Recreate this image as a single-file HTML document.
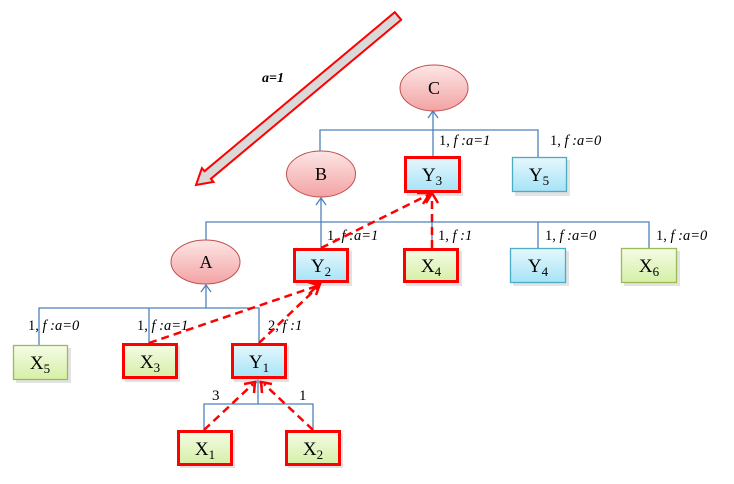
<!DOCTYPE html>
<html><head><meta charset="utf-8"><style>
html,body{margin:0;padding:0;background:#fff;}
svg{display:block;}
.n{font-family:"Liberation Serif",serif;font-size:19px;fill:#000;}
.e{font-size:18px;}
.s{font-size:13px;}
.l{font-family:"Liberation Serif",serif;font-size:14.5px;fill:#000;}
.i{font-style:italic;}
</style></head><body>
<svg width="734" height="484" viewBox="0 0 734 484" xmlns="http://www.w3.org/2000/svg">
<defs>
<linearGradient id="gg" x1="0" y1="0" x2="0" y2="1"><stop offset="0" stop-color="#f5fce6"/><stop offset="1" stop-color="#d5efa6"/></linearGradient>
<linearGradient id="bg" x1="0" y1="0" x2="0" y2="1"><stop offset="0" stop-color="#e6f8fd"/><stop offset="1" stop-color="#a6e3f6"/></linearGradient>
<linearGradient id="pg" x1="0" y1="0" x2="0" y2="1"><stop offset="0" stop-color="#fde6e6"/><stop offset="1" stop-color="#f3a3a3"/></linearGradient>
</defs>

<!-- big arrow -->
<polygon points="394.8,12.2 401.2,19.8 210.9,178.8 213.5,181.9 196,185 201.9,168.1 204.5,171.2" fill="#d9d9d9" stroke="#ff0000" stroke-width="2" stroke-linejoin="miter"/>
<text x="262" y="82" class="l i" font-weight="bold" style="font-size:14px">a=1</text>

<!-- blue connectors -->
<g stroke="#4f81bd" stroke-width="1.3" fill="none">
<polyline points="320,151 320,130 538,130 538,157"/>
<line x1="433" y1="157" x2="433" y2="111"/>
<polyline points="428,118 433,111 438,118"/>
<polyline points="206,240 206,222 649,222 649,248"/>
<line x1="321" y1="248" x2="321" y2="198"/>
<polyline points="316,205 321,198 326,205"/>
<line x1="538" y1="222" x2="538" y2="248"/>
<line x1="432" y1="222" x2="432" y2="248"/>
<polyline points="39,345 39,308 259,308 259,343"/>
<line x1="149" y1="308" x2="149" y2="343"/>
<line x1="206" y1="308" x2="206" y2="285"/>
<polyline points="201,292 206,285 211,292"/>
<polyline points="204,430 204,404 313,404 313,430"/>
<line x1="258" y1="404" x2="258" y2="380"/>
<polyline points="253,387 258,380 263,387"/>
</g>

<!-- ellipses -->
<g stroke="#c0504d" stroke-width="1" fill="url(#pg)">
<ellipse cx="434" cy="88" rx="34" ry="23"/>
<ellipse cx="321" cy="174" rx="34.5" ry="23"/>
<ellipse cx="205.5" cy="262" rx="34.5" ry="22"/>
</g>
<text x="434" y="94" class="n e" text-anchor="middle">C</text>
<text x="321" y="180" class="n e" text-anchor="middle">B</text>
<text x="206" y="268" class="n e" text-anchor="middle">A</text>

<!-- shadows -->
<g fill="#c8c8c8" opacity="0.5">
<rect x="407" y="160" width="56" height="36"/>
<rect x="515" y="160" width="55" height="36"/>
<rect x="296" y="251" width="56" height="35"/>
<rect x="406" y="251" width="56" height="35"/>
<rect x="513" y="251" width="56" height="35"/>
<rect x="624" y="251" width="56" height="35"/>
<rect x="16" y="348" width="55" height="35"/>
<rect x="125" y="346" width="55" height="36"/>
<rect x="234" y="346" width="55" height="36"/>
<rect x="180" y="433" width="55" height="35"/>
<rect x="288" y="433" width="55" height="35"/>
</g>

<!-- boxes -->
<rect x="405.5" y="157.5" width="54" height="34" fill="url(#bg)" stroke="#ff0000" stroke-width="3"/>
<rect x="512.5" y="157.5" width="54" height="34" fill="url(#bg)" stroke="#4bacc6" stroke-width="1.3"/>
<rect x="294.5" y="249.5" width="53" height="32" fill="url(#bg)" stroke="#ff0000" stroke-width="3"/>
<rect x="404.5" y="249.5" width="53" height="32" fill="url(#gg)" stroke="#ff0000" stroke-width="3"/>
<rect x="510.5" y="248.5" width="55" height="34" fill="url(#bg)" stroke="#4bacc6" stroke-width="1.3"/>
<rect x="621.5" y="248.5" width="55" height="34" fill="url(#gg)" stroke="#9bbb59" stroke-width="1.3"/>
<rect x="13.5" y="345.5" width="54" height="34" fill="url(#gg)" stroke="#9bbb59" stroke-width="1.3"/>
<rect x="123.5" y="344.5" width="53" height="33" fill="url(#gg)" stroke="#ff0000" stroke-width="3"/>
<rect x="232.5" y="344.5" width="53" height="33" fill="url(#bg)" stroke="#ff0000" stroke-width="3"/>
<rect x="178.5" y="431.5" width="53" height="33" fill="url(#gg)" stroke="#ff0000" stroke-width="3"/>
<rect x="286.5" y="431.5" width="53" height="33" fill="url(#gg)" stroke="#ff0000" stroke-width="3"/>

<!-- box labels -->
<g class="n" text-anchor="middle">
<text x="432" y="181">Y<tspan class="s" dy="4">3</tspan></text>
<text x="539" y="181">Y<tspan class="s" dy="4">5</tspan></text>
<text x="321" y="272">Y<tspan class="s" dy="4">2</tspan></text>
<text x="431" y="272">X<tspan class="s" dy="4">4</tspan></text>
<text x="538" y="272">Y<tspan class="s" dy="4">4</tspan></text>
<text x="649" y="272">X<tspan class="s" dy="4">6</tspan></text>
<text x="40" y="369">X<tspan class="s" dy="4">5</tspan></text>
<text x="150" y="368">X<tspan class="s" dy="4">3</tspan></text>
<text x="259" y="368">Y<tspan class="s" dy="4">1</tspan></text>
<text x="205" y="455">X<tspan class="s" dy="4">1</tspan></text>
<text x="313" y="455">X<tspan class="s" dy="4">2</tspan></text>
</g>

<!-- edge labels -->
<text x="439" y="145" class="l">1, <tspan class="i">f :a=1</tspan></text>
<text x="550" y="145" class="l">1, <tspan class="i">f :a=0</tspan></text>
<text x="327" y="240" class="l">1, <tspan class="i">f :a=1</tspan></text>
<text x="438" y="240" class="l">1, <tspan class="i">f :1</tspan></text>
<text x="545" y="240" class="l">1, <tspan class="i">f :a=0</tspan></text>
<text x="656" y="240" class="l">1, <tspan class="i">f :a=0</tspan></text>
<text x="28" y="330" class="l">1, <tspan class="i">f :a=0</tspan></text>
<text x="137" y="330" class="l">1, <tspan class="i">f :a=1</tspan></text>
<text x="268" y="330" class="l">2, <tspan class="i">f :1</tspan></text>
<text x="212" y="400" class="l" style="font-size:15px">3</text>
<text x="299" y="400" class="l" style="font-size:15px">1</text>

<!-- red dashed arrows -->
<g stroke="#ff0000" stroke-width="2.5" fill="none" stroke-dasharray="8,5">
<line x1="204" y1="430" x2="253" y2="384"/>
<line x1="313" y1="430" x2="264" y2="384"/>
<line x1="149" y1="343" x2="317" y2="286"/>
<line x1="259" y1="343" x2="319" y2="286"/>
<line x1="321" y1="248" x2="428" y2="195"/>
<line x1="432" y1="248" x2="432" y2="196"/>
</g>
<g stroke="#ff0000" stroke-width="2.5" fill="none" stroke-linejoin="miter">
<polyline points="244,384 255,382 254,393"/>
<polyline points="262,393 261,382 272,384"/>
<polyline points="305,281 318,285 309,294"/>
<polyline points="309,281 320,284 316,295"/>
<polyline points="417,193 430,193 423,204"/>
<polyline points="426,203 432,193 438,203"/>
</g>
</svg>
</body></html>
